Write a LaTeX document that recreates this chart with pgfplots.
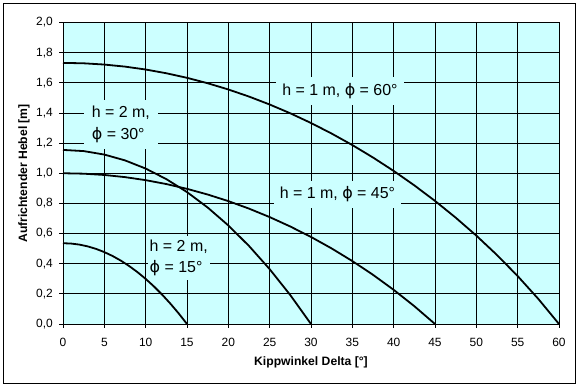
\documentclass[border=0pt]{standalone}
\usepackage{pgfplots}
\pgfplotsset{compat=1.18}
\usepackage{fontspec}
\setmainfont{Liberation Sans}
\newfontfamily\dejavu{DejaVu Sans}
\definecolor{plotbg}{RGB}{204,255,255}
\newcommand{\ph}{{\dejavu ϕ}}
\begin{document}
\begin{tikzpicture}
\useasboundingbox (0,0) rectangle (579bp,388bp);
\fill[white] (0,0) rectangle (579bp,388bp);
\draw[black, line width=1bp] (3.5bp,4.5bp) rectangle (575bp,384.5bp);
\begin{axis}[
  at={(63bp,64bp)}, anchor=south west,
  scale only axis, width=496bp, height=301.5bp,
  xmin=0, xmax=60, ymin=0, ymax=2,
  xtick={0,5,10,15,20,25,30,35,40,45,50,55,60},
  ytick={0,0.2,0.4,0.6,0.8,1.0,1.2,1.4,1.6,1.8,2.0},
  grid=major, major grid style={black, line width=0.8bp},
  axis background/.style={fill=plotbg},
  axis line style={black, line width=0.8bp},
  tick align=outside, tick pos=left, major tick length=4bp,
  tick style={black, line width=0.8bp},
  /pgf/number format/assume math mode=true,
  tick label style={font=\fontsize{12}{13}\selectfont, inner sep=0pt},
  yticklabel style={anchor=east, xshift=-6bp, /pgf/number format/.cd, fixed, fixed zerofill, precision=1, use comma},
  xticklabel style={anchor=north, yshift=-10bp},
  clip=false,
]
\node[fill=plotbg, inner xsep=6bp, inner ysep=6bp, font=\fontsize{16}{20}\selectfont] at (axis cs:33.5,1.545) {h = 1 m, \ph{} = 60°};
\node[fill=plotbg, inner xsep=6bp, inner ysep=6bp, font=\fontsize{16}{20}\selectfont] at (axis cs:33.2,0.86) {h = 1 m, \ph{} = 45°};
\node[fill=plotbg, inner xsep=8bp, inner ysep=6bp, align=left, font=\fontsize{16}{22}\selectfont] at (axis cs:7.0,1.325) {h = 2 m,\\\ph{} = 30°};
\node[fill=plotbg, inner xsep=2bp, inner ysep=4bp, align=left, font=\fontsize{16}{21}\selectfont] at (axis cs:14.0,0.437) {h = 2 m,\\\ph{} = 15°};
% h = 1 m, phi = 60
\addplot[black, line width=1.8bp] coordinates {
(0,1.7321) (2.5,1.7293) (5,1.7210) (7.5,1.7073) (10,1.6881) (12.5,1.6633)
(15,1.6330) (17.5,1.5971) (20,1.5557) (22.5,1.5087) (25,1.4560) (27.5,1.3976)
(30,1.3333) (32.5,1.2632) (35,1.1869) (37.5,1.1044) (40,1.0154) (42.5,0.9196)
(45,0.8165) (47.5,0.7056) (50,0.5863) (52.5,0.4575) (55,0.3180) (57.5,0.1663) (60,0)};
% h = 1 m, phi = 45
\addplot[black, line width=1.8bp] coordinates {
(0,1.0) (2.5,0.9971) (5,0.9886) (7.5,0.9743) (10,0.9542) (12.5,0.9283)
(15,0.8966) (17.5,0.8589) (20,0.8152) (22.5,0.7654) (25,0.7092) (27.5,0.6466)
(30,0.5774) (32.5,0.5011) (35,0.4175) (37.5,0.3262) (40,0.2267) (42.5,0.1182) (45,0)};
% h = 2 m, phi = 30
\addplot[black, line width=1.8bp] coordinates {
(0,1.1547) (2.5,1.1470) (5,1.1239) (7.5,1.0853) (10,1.0311) (12.5,0.9611)
(15,0.8751) (17.5,0.7728) (20,0.6538) (22.5,0.5177) (25,0.3638) (27.5,0.1915) (30,0)};
% h = 2 m, phi = 15
\addplot[black, line width=1.8bp] coordinates {
(0,0.5359) (1,0.5335) (2,0.5265) (3,0.5147) (4,0.4982) (5,0.4769) (6,0.4510)
(7,0.4202) (8,0.3847) (9,0.3444) (10,0.2992) (11,0.2492) (12,0.1943)
(13,0.1345) (14,0.0698) (15,0)};
\end{axis}
\node[font=\bfseries\fontsize{12.2}{13}\selectfont] at (311bp,25.5bp) {Kippwinkel Delta [°]};
\node[rotate=90, font=\bfseries\fontsize{12.2}{13}\selectfont] at (24bp,214.5bp) {Aufrichtender Hebel [m]};
\end{tikzpicture}
\end{document}
